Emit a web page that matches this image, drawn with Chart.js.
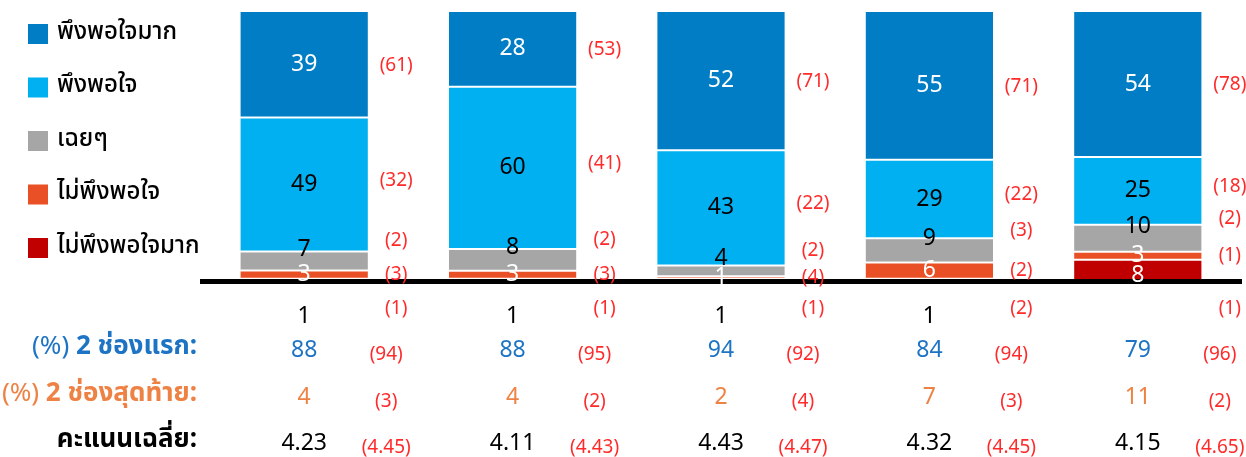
<!DOCTYPE html>
<html>
<head>
<meta charset="utf-8">
<script src="https://cdn.jsdelivr.net/npm/chart.js@4/dist/chart.umd.min.js"></script>
<style>
html,body{margin:0;padding:0;background:#fff;}
canvas{display:block;}
</style>
</head>
<body>
<canvas id="c" width="1246" height="457"></canvas>
<script>
// ---- data ----
const categories = ['1', '2', '3', '4', '5'];
const legendLabels = ['พึงพอใจมาก', 'พึงพอใจ', 'เฉยๆ', 'ไม่พึงพอใจ', 'ไม่พึงพอใจมาก'];
const verySatisfied = [39, 28, 52, 55, 54];
const satisfied = [49, 60, 43, 29, 25];
const neutral = [7, 8, 4, 9, 10];
const dissatisfied = [3, 3, 1, 6, 3];
const veryDissatisfied = [1, 1, 1, 1, 8];
const prevVerySatisfied = [61, 53, 71, 71, 78];
const prevSatisfied = [32, 41, 22, 22, 18];
const prevNeutral = [2, 2, 2, 3, 2];
const prevDissatisfied = [3, 3, 4, 2, 1];
const prevVeryDissatisfied = [1, 1, 1, 2, 1];
const rowLabels = [['(%) ', '2 ช่องแรก:'], ['(%) ', '2 ช่องสุดท้าย:'], ['', 'คะแนนเฉลี่ย:']];
const top2 = [88, 88, 94, 84, 79];
const prevTop2 = [94, 95, 92, 94, 96];
const bottom2 = [4, 4, 2, 7, 11];
const prevBottom2 = [3, 2, 4, 3, 2];
const meanScore = ['4.23', '4.11', '4.43', '4.32', '4.15'];
const prevMeanScore = ['4.45', '4.43', '4.47', '4.45', '4.65'];

// ---- styles ----
const FONT = '"Noto Sans", "Noto Sans Thai", Tahoma, sans-serif';
const C_DARKBLUE = '#007DC5';
const C_LIGHTBLUE = '#00B0F0';
const C_GRAY = '#A6A6A6';
const C_ORANGE = '#EA5025';
const C_DARKRED = '#C00000';
const C_RED = '#FF2A2A';
const C_ROWBLUE = '#1D74C4';
const C_ROWORANGE = '#EE8244';

const legendColors = [C_DARKBLUE, C_LIGHTBLUE, C_GRAY, C_ORANGE, C_DARKRED];

// 100% stacked: each bar is shown as its share of the bar total
const seriesRaw = [veryDissatisfied, dissatisfied, neutral, satisfied, verySatisfied];
const totals = categories.map((_, i) => seriesRaw.reduce((s, arr) => s + arr[i], 0));
const share = arr => arr.map((v, i) => v / totals[i] * 100);

function ds(label, raw, color) {
  return {label, data: share(raw), raw, backgroundColor: color, borderColor: '#ffffff', borderWidth: 1,
          borderSkipped: false, barPercentage: 0.62, categoryPercentage: 1.0, clip: false};
}

const overlay = {
  id: 'overlay',
  afterDatasetsDraw(chart) {
    const ctx = chart.ctx, a = chart.chartArea;
    ctx.save();
    ctx.fillStyle = '#000';
    const yb = chart.scales.y.getPixelForValue(0);
    ctx.fillRect(a.left, yb - 2.5, a.right - a.left, 5);
    ctx.restore();
  },
  afterDraw(chart) {
    const ctx = chart.ctx;
    const yScale = chart.scales.y;
    const base = yScale.getPixelForValue(0);
    ctx.save();
    ctx.textBaseline = 'middle';
    // legend
    legendLabels.forEach((t, i) => {
      const cy = 34 + i * 53.5;
      ctx.fillStyle = legendColors[i];
      ctx.fillRect(28, cy - 10, 20, 20);
      ctx.fillStyle = '#000';
      ctx.font = '500 24px ' + FONT;
      ctx.textAlign = 'left';
      ctx.fillText(t, 57, cy - 2);
    });
    const prevs = [prevVeryDissatisfied, prevDissatisfied, prevNeutral, prevSatisfied, prevVerySatisfied];
    const textColors = ['#fff', '#fff', '#000', '#000', '#fff'];
    chart.data.datasets.forEach((d, di) => {
      const meta = chart.getDatasetMeta(di);
      meta.data.forEach((el, i) => {
        const v = d.raw[i];
        let cy = (el.y + el.base) / 2;
        let col = textColors[di];
        let ry = cy;
        if (di === 0) {
          if (v < 3) { cy = base + 35; col = '#000'; }
          else { cy = cy + 5; }
          ry = base + 27;
        } else if (di === 2) {
          cy = cy - 12; ry = cy - 8;
        } else if (di === 3) {
          ry = cy - 4;
        } else if (di === 4) {
          ry = cy + 1;
        }
        ctx.font = '23px ' + FONT;
        ctx.textAlign = 'center';
        ctx.fillStyle = col;
        ctx.fillText(String(v), el.x, cy);
        ctx.font = '19px ' + FONT;
        ctx.fillStyle = C_RED;
        ctx.fillText('(' + prevs[di][i] + ')', el.x + 92, ry);
      });
    });
    // summary rows
    const rows = [
      {vals: top2, prev: prevTop2, color: C_ROWBLUE, y: 350},
      {vals: bottom2, prev: prevBottom2, color: C_ROWORANGE, y: 397},
      {vals: meanScore, prev: prevMeanScore, color: '#000', y: 443}
    ];
    const meta0 = chart.getDatasetMeta(0);
    rows.forEach((r, ri) => {
      ctx.textAlign = 'right';
      ctx.font = 'bold 26px ' + FONT;
      const main = rowLabels[ri][1];
      const wMain = ctx.measureText(main).width;
      ctx.fillStyle = r.color;
      ctx.fillText(main, 197, r.y - 3);
      if (rowLabels[ri][0]) {
        ctx.font = '26px ' + FONT;
        ctx.fillText(rowLabels[ri][0], 197 - wMain, r.y - 3);
      }
      ctx.textAlign = 'center';
      meta0.data.forEach((el, i) => {
        ctx.font = '23px ' + FONT;
        ctx.fillStyle = r.color;
        ctx.fillText(String(r.vals[i]), el.x, r.y);
        ctx.font = '19px ' + FONT;
        ctx.fillStyle = C_RED;
        ctx.fillText('(' + r.prev[i] + ')', el.x + 82, r.y + 5);
      });
    });
    ctx.restore();
  }
};

new Chart(document.getElementById('c'), {
  type: 'bar',
  data: {
    labels: categories,
    datasets: [
      ds(legendLabels[4], veryDissatisfied, C_DARKRED),
      ds(legendLabels[3], dissatisfied, C_ORANGE),
      ds(legendLabels[2], neutral, C_GRAY),
      ds(legendLabels[1], satisfied, C_LIGHTBLUE),
      ds(legendLabels[0], verySatisfied, C_DARKBLUE)
    ]
  },
  options: {
    responsive: false,
    animation: false,
    devicePixelRatio: 1,
    layout: {padding: {left: 200, right: 4, top: 11, bottom: 175.5}},
    plugins: {legend: {display: false}, tooltip: {enabled: false}},
    scales: {
      x: {display: false, stacked: true},
      y: {display: false, stacked: true, min: 0, max: 100}
    }
  },
  plugins: [overlay]
});
</script>
</body>
</html>
